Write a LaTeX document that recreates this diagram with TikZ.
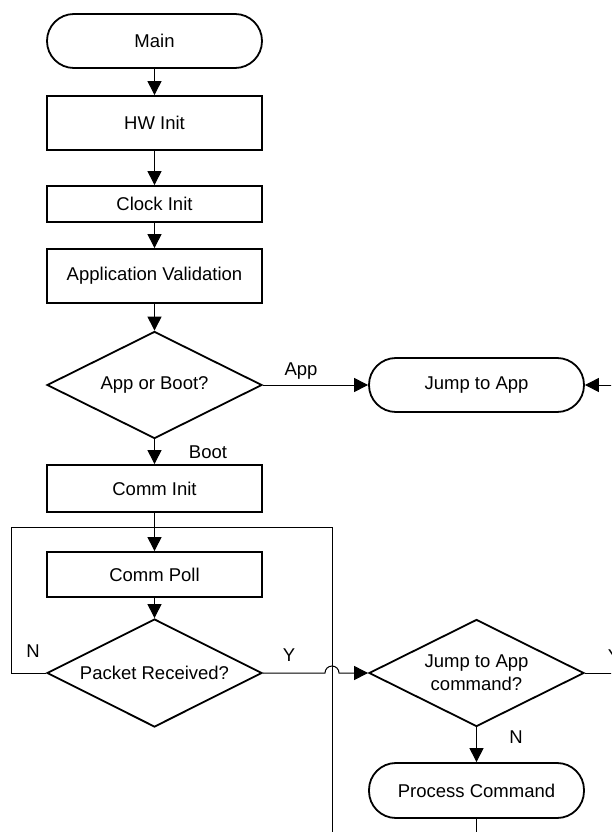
\documentclass[tikz,border=0pt]{standalone}
\usepackage{fontspec}
\setmainfont{Liberation Sans}
\usetikzlibrary{shapes.geometric,arrows.meta}
\tikzset{
  base/.style={draw, line width=1.8pt, font=\fontsize{18.5}{23}\selectfont, align=center, inner sep=0pt},
  procbox/.style={base, rectangle, minimum width=215pt},
  termbox/.style={base, rectangle, rounded corners=26.9pt, minimum width=215pt, minimum height=54pt},
  decbox/.style={base, diamond, minimum width=215pt, minimum height=107pt, aspect=2},
  conn/.style={line width=1pt},
  arr/.style={conn, -{Triangle[length=14pt,width=14pt]}},
  lbl/.style={font=\fontsize{18.5}{23}\selectfont, inner sep=0pt}
}
\begin{document}
\begin{tikzpicture}[x=1pt,y=-1pt]
\useasboundingbox (0,0) rectangle (611,832);
\clip (0,0) rectangle (611,832);
\fill[white] (0,0) rectangle (611,832);

\node[termbox] (main) at (154.5,41) {Main};
\node[procbox, minimum height=54pt] (hw) at (154.5,123) {HW Init};
\node[procbox, minimum height=36pt] (clk) at (154.5,204) {Clock Init};
\node[procbox, minimum height=54pt] (av) at (154.5,276) {Application Validation};
\node[decbox] (aob) at (154.5,385) {App or Boot?};
\node[termbox] (ja) at (476.5,385) {Jump to App};
\node[procbox, minimum height=47pt] (ci) at (154.5,488.5) {Comm Init};
\node[procbox, minimum height=45pt] (cp) at (154.5,574.5) {Comm Poll};
\node[decbox, minimum height=108pt] (pr) at (154.5,673) {Packet Received?};
\node[decbox] (jc) at (476.5,673) {Jump to App\\command?};
\node[termbox, minimum height=55pt] (pc) at (476.5,790.5) {Process Command};

\coordinate (join) at (154.5,527);

\draw[arr] (main) -- (hw);
\draw[arr] (hw) -- (clk);
\draw[arr] (clk) -- (av);
\draw[arr] (av) -- (aob);
\draw[arr] (aob) -- (ja);
\draw[arr] (aob) -- (ci);
\draw[arr] (ci) -- (cp);
\draw[arr] (cp) -- (pr);
\draw[arr] (jc) -- (pc);

% N loop back
\draw[conn] (pr.west) -| (11,527) -- (join);
% Process Command loop back
\draw[conn] (pc.south) -- (476.5,860) -| (332,527) -- (join);
% Y with hop
\draw[arr] (pr.east) -- (325,673) arc[start angle=180, end angle=0, radius=7pt] -- (jc.west);
% Y to Jump to App (off page)
\draw[arr] (jc.east) -- (650,673) |- (ja.east);

\node[lbl] (lapp) at (301,371) {App};
\node[lbl] (lboot) at (208,452) {Boot};
\node[lbl] (ln1) at (33,651) {N};
\node[lbl] (ly1) at (289,655) {Y};
\node[lbl] (ly2) at (614,656) {Y};
\node[lbl] (ln2) at (516,737) {N};
\end{tikzpicture}
\end{document}
